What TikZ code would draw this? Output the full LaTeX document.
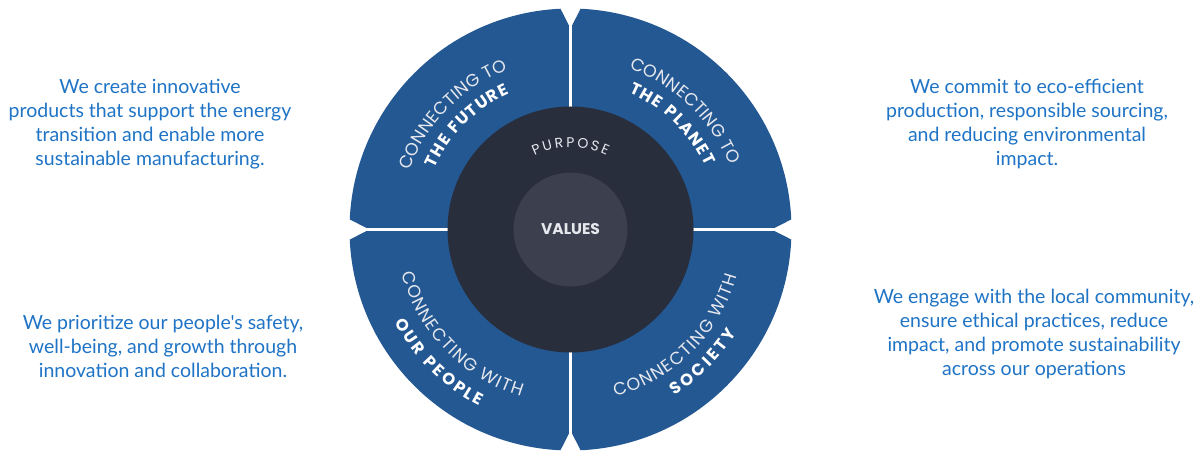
\documentclass[tikz,border=0pt]{standalone}
\usepackage{fontspec}
\setmainfont{Lato}[Ligatures=TeXOff]
\newfontfamily\arcfont{Poppins}
\usetikzlibrary{decorations.text}
\definecolor{quadblue}{HTML}{245893}
\definecolor{darkring}{HTML}{282E3C}
\definecolor{innerc}{HTML}{3C3F4D}
\definecolor{sideblue}{HTML}{1F74C6}
\definecolor{lighttxt}{HTML}{E6E8EE}
\newcommand\lightlab{\arcfont\fontsize{17.5}{17.5}\selectfont\color{lighttxt}}
\newcommand\boldlab{\arcfont\fontsize{16.5}{16.5}\selectfont\bfseries\color{white}}
\newcommand\purplab{\arcfont\fontsize{14}{14}\selectfont\color{lighttxt}}
\begin{document}
\begin{tikzpicture}[x=1pt,y=1pt,
  quad/.style={fill=quadblue},
  sidetext/.style={text=sideblue, align=center, font=\fontsize{19.5}{24}\selectfont, inner sep=0pt},
  lightarc/.style={decorate, decoration={text along path, text align={fit to path}, text={|\lightlab|#1}}},
  boldarc/.style={decorate, decoration={text along path, text align={fit to path}, text={|\boldlab|#1}}},
  purparc/.style={decorate, decoration={text along path, text align={fit to path}, text={|\purplab|#1}}},
]
\useasboundingbox (0,0) rectangle (1204,450);
\fill[white] (0,0) rectangle (1204,450);
\coordinate (C) at (570.5,220.5);
\def\R{221}\def\g{1.6}\def\D{204}
\foreach \a in {0,90,180,270}{
  \fill[quad, shift={(C)}, rotate=\a] (\g,\g) -- (\D,\g) -- (2.6:\R) arc[start angle=2.6, end angle=87.4, radius=\R] -- (\g,\D) -- cycle;
}
\fill[darkring] (C) circle[radius=123];
\fill[innerc] (C) circle[radius=57];
\node[font=\arcfont\fontsize{15.5}{15.5}\selectfont\bfseries, text=lighttxt] (values) at (C) {VALUES};
\path[purparc={PURPOSE}, shift={(C)}] (116:82.5) arc[start angle=116, end angle=64, radius=82.5];
% top-left
\path[lightarc={CONNECTING TO}, shift={(C)}] (160:171.5) arc[start angle=160, end angle=111.5, radius=171.5];
\path[boldarc={THE FUTURE}, shift={(C)}] (155.7:149) arc[start angle=155.7, end angle=114.3, radius=149];
% top-right
\path[lightarc={CONNECTING TO}, shift={(C)}] (70:171.5) arc[start angle=70, end angle=22, radius=171.5];
\path[boldarc={THE PLANET}, shift={(C)}] (67:149) arc[start angle=67, end angle=25, radius=149];
% bottom-right
\path[lightarc={CONNECTING WITH}, shift={(C)}] (-75:173) arc[start angle=-75, end angle=-15.5, radius=173];
\path[boldarc={SOCIETY}, shift={(C)}] (-58:195.5) arc[start angle=-58, end angle=-32, radius=195.5];
% bottom-left
\path[lightarc={CONNECTING WITH}, shift={(C)}] (194.5:174) arc[start angle=194.5, end angle=253.5, radius=174];
\path[boldarc={OUR PEOPLE}, shift={(C)}] (207.8:198.5) arc[start angle=207.8, end angle=242.8, radius=198.5];
% side texts
\node[sidetext] (tl) at (150,325.5) {We create innovative\\products that support the energy\\transition and enable more\\sustainable manufacturing.};
\node[sidetext] (tr) at (1027,325.5) {We commit to eco-efficient\\production, responsible sourcing,\\and reducing environmental\\impact.};
\node[sidetext] (bl) at (163,104) {We prioritize our people's safety,\\well-being, and growth through\\innovation and collaboration.};
\node[sidetext] (br) at (1034,116) {We engage with the local community,\\ensure ethical practices, reduce\\impact, and promote sustainability\\across our operations};
\end{tikzpicture}
\end{document}
